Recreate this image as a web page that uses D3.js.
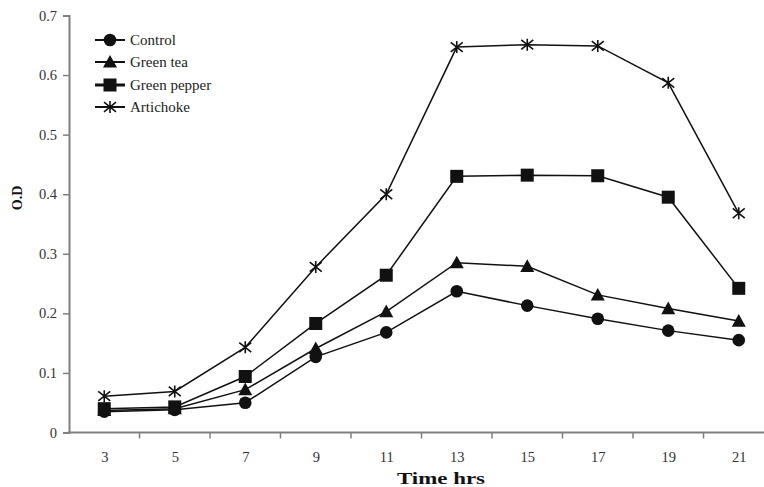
<!DOCTYPE html>
<html>
<head>
<meta charset="utf-8">
<script src="https://cdn.jsdelivr.net/npm/d3@7"></script>
<style>
html,body{margin:0;padding:0;background:#fff;}
svg{display:block;}
</style>
</head>
<body>
<svg id="chart" width="764" height="487"></svg>
<script>
const categories = ["3","5","7","9","11","13","15","17","19","21"];
const yTicks = [0,0.1,0.2,0.3,0.4,0.5,0.6,0.7];
const seriesNames = ["Control","Green tea","Green pepper","Artichoke"];
const control     = [0.035,0.038,0.050,0.127,0.168,0.237,0.213,0.191,0.171,0.155];
const greenTea    = [0.037,0.040,0.072,0.141,0.203,0.285,0.279,0.231,0.208,0.187];
const greenPepper = [0.040,0.043,0.094,0.183,0.264,0.430,0.432,0.431,0.395,0.242];
const artichoke   = [0.061,0.069,0.143,0.278,0.400,0.647,0.651,0.649,0.587,0.368];

(function(){
const FONT = '"Liberation Serif", "Times New Roman", serif';
const series = [
  {name: seriesNames[0], values: control, marker: "circle"},
  {name: seriesNames[1], values: greenTea, marker: "triangle"},
  {name: seriesNames[2], values: greenPepper, marker: "square"},
  {name: seriesNames[3], values: artichoke, marker: "star"}
];

const svg = d3.select("#chart");
const mLeft = 69, mRight = 774, mTop = 15.5, mBottom = 432.5;

const x = d3.scaleBand().domain(categories).range([mLeft, mRight]).padding(0);
const xc = d => x(d) + x.bandwidth()/2;
const y = d3.scaleLinear().domain([0,0.7]).range([mBottom, mTop]);

const axisColor = "#808080";

// Y axis
const yAxis = d3.axisLeft(y).tickValues(yTicks).tickSize(6).tickPadding(6)
  .tickFormat(d => d === 0 ? "0" : d3.format(".1f")(d));
const gy = svg.append("g").attr("transform", `translate(${mLeft},0)`).call(yAxis)
  .attr("font-family", FONT).attr("font-size", 14.5);
gy.select(".domain").attr("stroke", axisColor).attr("stroke-width", 2);
gy.selectAll(".tick line").attr("stroke", axisColor).attr("stroke-width", 1.5);
gy.selectAll(".tick text").attr("fill", "#333");

// X axis: labels at band centres, ticks at band boundaries
const xAxis = d3.axisBottom(d3.scalePoint().domain(categories).range([xc(categories[0]), xc(categories[categories.length-1])]))
  .tickSize(0).tickPadding(19);
const gx = svg.append("g").attr("transform", `translate(0,${mBottom})`).call(xAxis)
  .attr("font-family", FONT).attr("font-size", 14.5);
gx.select(".domain").remove();
gx.selectAll(".tick text").attr("fill", "#333");
svg.append("line").attr("x1", mLeft - 1).attr("x2", mRight).attr("y1", mBottom).attr("y2", mBottom)
  .attr("stroke", axisColor).attr("stroke-width", 2);
const boundaries = categories.map(c => x(c) + x.bandwidth());
svg.append("g").selectAll("line").data(boundaries).join("line")
  .attr("x1", d => d).attr("x2", d => d).attr("y1", mBottom).attr("y2", mBottom + 6)
  .attr("stroke", axisColor).attr("stroke-width", 1.5);

// Axis titles
svg.append("text").attr("transform", "translate(22,198) rotate(-90)")
  .attr("font-family", FONT)
  .attr("text-anchor", "middle").attr("font-size", 14).attr("font-weight", "bold").attr("fill", "#111").text("O.D");
svg.append("text").attr("x", 441).attr("y", 484)
  .attr("font-family", FONT)
  .attr("text-anchor", "middle").attr("font-size", 17).attr("font-weight", "bold").attr("fill", "#111")
  .attr("textLength", 88).attr("lengthAdjust", "spacingAndGlyphs").text("Time  hrs");

// Markers
function drawMarker(g, type, cx, cy) {
  if (type === "circle") {
    g.append("circle").attr("cx", cx).attr("cy", cy).attr("r", 6.3).attr("fill", "#111");
  } else if (type === "triangle") {
    const s = 7;
    g.append("path").attr("d", `M${cx},${cy - s}L${cx + s},${cy + s*0.8}L${cx - s},${cy + s*0.8}Z`).attr("fill", "#111");
  } else if (type === "square") {
    const s = 6.5;
    g.append("rect").attr("x", cx - s).attr("y", cy - s).attr("width", 2*s).attr("height", 2*s).attr("fill", "#111");
  } else if (type === "star") {
    const s = 6;
    g.append("path")
      .attr("d", `M${cx},${cy - s}L${cx},${cy + s}M${cx - s},${cy - s*0.8}L${cx + s},${cy + s*0.8}M${cx - s},${cy + s*0.8}L${cx + s},${cy - s*0.8}`)
      .attr("stroke", "#111").attr("stroke-width", 1.6).attr("fill", "none");
  }
}

const line = d3.line().x((d, i) => xc(categories[i])).y(d => y(d));
const plot = svg.append("g");
series.forEach(s => {
  plot.append("path").datum(s.values).attr("d", line)
    .attr("fill", "none").attr("stroke", "#111").attr("stroke-width", 1.5);
});
series.forEach(s => {
  const g = plot.append("g");
  s.values.forEach((v, i) => drawMarker(g, s.marker, xc(categories[i]), y(v)));
});

// Legend
const legendY = [40, 62, 85, 107];
const lg = svg.append("g").attr("font-family", FONT);
series.forEach((s, i) => {
  const ly = legendY[i];
  lg.append("line").attr("x1", 95).attr("x2", 125).attr("y1", ly).attr("y2", ly)
    .attr("stroke", "#111").attr("stroke-width", i === 2 ? 3 : 2);
  drawMarker(lg, s.marker, 110, ly);
  lg.append("text").attr("x", 130).attr("y", ly + 5).attr("font-size", 15).attr("fill", "#222").text(s.name);
});
})();
</script>
</body>
</html>
